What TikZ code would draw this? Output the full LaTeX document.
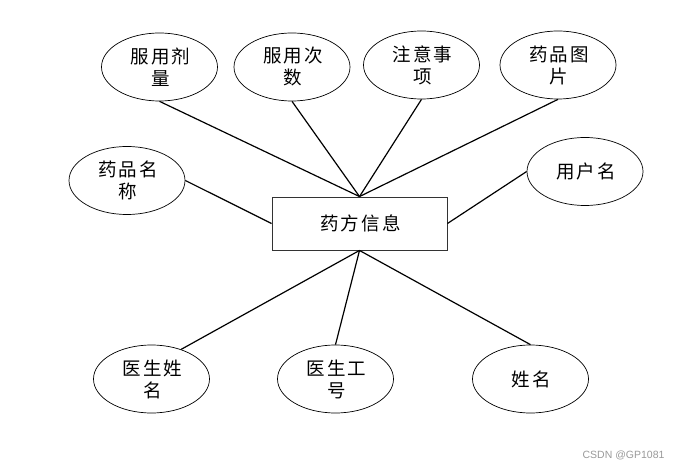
\documentclass[tikz,border=0pt]{standalone}
\usepackage{fontspec}
\newfontfamily\cjk[LetterSpace=12]{Noto Sans CJK SC}
\newfontfamily\markfont{Liberation Sans}
\usetikzlibrary{shapes.geometric,positioning}

\begin{document}
\begin{tikzpicture}[x=1pt, y=-1pt,
    attr/.style={ellipse, draw, line width=0.7pt, minimum width=116pt, minimum height=68pt,
        inner sep=0pt, align=center, font=\fontsize{18.5}{22}\cjk},
    entity/.style={rectangle, draw=black!80, line width=0.9pt, minimum width=175pt, minimum height=53pt,
        font=\fontsize{18.5}{22}\cjk},
    link/.style={line width=1.2pt}
]
\useasboundingbox (0, 0) rectangle (682, 470);
% Entity
\node[entity] (recipe) at (359.5, 223.5) {\hspace{2pt}药方信息};
% Attributes, top row
\node[attr] (dose) at (159.5, 67) {\hspace{2pt}服用剂\\\hspace{2pt}量};
\node[attr] (freq) at (292, 67) {\hspace{2pt}服用次\\\hspace{2pt}数};
\node[attr] (note) at (421.5, 65) {\hspace{2pt}注意事\\\hspace{2pt}项};
\node[attr] (pic) at (558, 65) {\hspace{2pt}药品图\\\hspace{2pt}片};
% Attributes, sides
\node[attr] (drugname) at (127, 180.5) {\hspace{2pt}药品名\\\hspace{2pt}称};
\node[attr] (user) at (585, 171.5) {\hspace{2pt}用户名};
% Attributes, bottom row
\node[attr] (docname) at (151.5, 379) {\hspace{2pt}医生姓\\\hspace{2pt}名};
\node[attr] (docid) at (335.5, 379) {\hspace{2pt}医生工\\\hspace{2pt}号};
\node[attr] (name) at (530.5, 379) {\hspace{2pt}姓名};
% Links
\foreach \a in {dose, freq, note, pic}
    \draw[link] (\a.south) -- (recipe.north);
\draw[link] (drugname.east) -- (recipe.west);
\draw[link] (user.west) -- (recipe.east);
\draw[link] (recipe.south) -- (docname.45);
\draw[link] (recipe.south) -- (docid.north);
\draw[link] (recipe.south) -- (name.north);
% Watermark
\node[font=\fontsize{10.5}{12}\markfont, text=black!40, anchor=east] (mark) at (668, 455) {CSDN @GP1081};
\end{tikzpicture}
\end{document}
